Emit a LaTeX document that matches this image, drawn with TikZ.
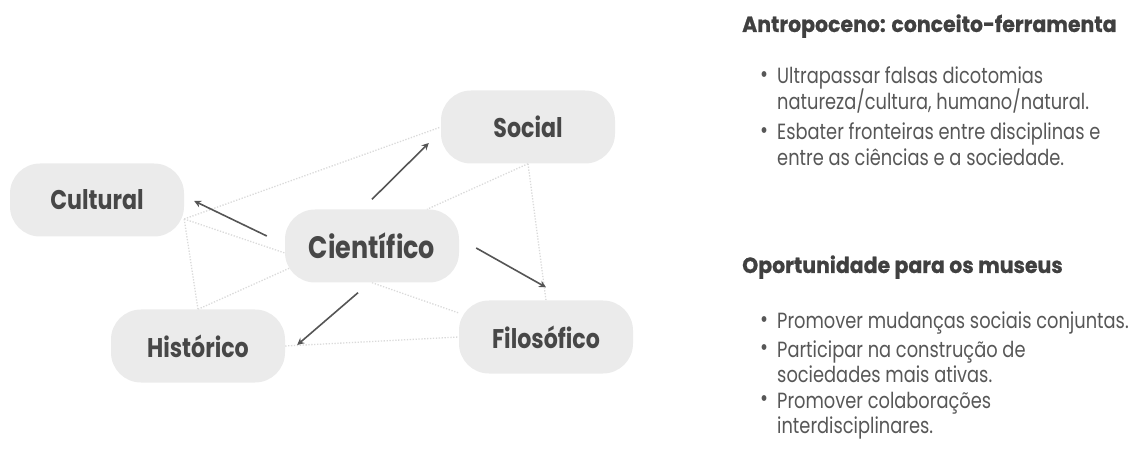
\documentclass[tikz,border=0pt]{standalone}
\usepackage{fontspec}
\setmainfont{Poppins}
\newfontfamily\nodefont[FakeStretch=0.82]{Poppins}
\newfontfamily\bodyfont[FakeStretch=0.81]{Poppins}
\newfontfamily\headfont[FakeStretch=0.93,BoldFeatures={FakeBold=0.6}]{Poppins}
\usetikzlibrary{arrows.meta}
\pgfdeclarelayer{background}
\pgfsetlayers{background,main}
\definecolor{pill}{HTML}{EBEBEB}
\definecolor{pilltext}{HTML}{474747}
\definecolor{arrowc}{HTML}{555555}
\definecolor{dotc}{HTML}{DADADA}
\definecolor{bodyc}{HTML}{575757}
\definecolor{headc}{HTML}{404040}
\tikzset{
  pillbox/.style={rectangle, rounded corners=30pt, fill=pill, minimum width=174pt, minimum height=73pt, inner sep=0pt, text=pilltext, font=\nodefont\bfseries\fontsize{27}{30}\selectfont},
  arr/.style={draw=arrowc, line width=1.6pt, -{Stealth[length=7pt,width=7pt]}},
  dotline/.style={draw=dotc, line width=1.3pt, dash pattern=on 1.3pt off 1.6pt},
  headtxt/.style={anchor=base west, inner sep=0pt, text=headc, font=\headfont\bfseries\fontsize{22}{24}\selectfont},
  bodytxt/.style={anchor=base west, inner sep=0pt, text=bodyc, font=\bodyfont\fontsize{22}{24}\selectfont},
  bullet/.style={anchor=center, inner sep=0pt, text=bodyc, font=\bodyfont\fontsize{24}{24}\selectfont}
}
\begin{document}
\begin{tikzpicture}[x=1pt,y=-1pt]
\useasboundingbox (0,0) rectangle (1136,457);
% pills
\node[pillbox] (cul) at (97,200) {Cultural};
\node[pillbox] (soc) at (528,127) {Social};
\node[pillbox, font=\nodefont\bfseries\fontsize{31}{36}\selectfont] (cie) at (372,246) {Científico};
\node[pillbox] (fil) at (546,337) {Filosófico};
\node[pillbox] (his) at (198,346) {Histórico};
% dotted network
\begin{pgfonlayer}{background}
\coordinate (pc) at ([yshift=-19pt]cul.east);
\draw[dotline] (pc) -- (soc.west);
\draw[dotline] (pc) -- ([yshift=-7pt]cie.west);
\draw[dotline] (pc) -- (his.north);
\draw[dotline] (his.north) -- ([xshift=5pt,yshift=-22pt]cie.west);
\draw[dotline] (his.east) -- (fil.west);
\draw[dotline] (cie.south) -- ([yshift=24pt]fil.west);
\draw[dotline] (soc.south) -- ([xshift=55pt]cie.north);
\draw[dotline] (soc.south) -- (fil.north);
\end{pgfonlayer}
% arrows
\draw[arr] ([xshift=-18pt,yshift=10pt]cie.west) -- ([xshift=10pt,yshift=-1pt]cul.east);
\draw[arr] ([yshift=10pt]cie.north) -- ([xshift=-12pt,yshift=-16pt]soc.west);
\draw[arr] ([xshift=17pt,yshift=-2pt]cie.east) -- ([yshift=13pt]fil.north);
\draw[arr] ([xshift=-14pt,yshift=-10pt]cie.south) -- ([xshift=12pt,yshift=1pt]his.east);
% right text
\node[headtxt] (h1) at (742,32) {Antropoceno: conceito-ferramenta};
\node[bullet] (b11) at (764,77) {•};
\node[bodytxt] (t11) at (777,84) {Ultrapassar falsas dicotomias};
\node[bodytxt] (t12) at (777,110) {natureza/cultura, humano/natural.};
\node[bullet] (b12) at (764,133) {•};
\node[bodytxt] (t13) at (777,140) {Esbater fronteiras entre disciplinas e};
\node[bodytxt] (t14) at (777,166) {entre as ciências e a sociedade.};
\node[headtxt] (h2) at (742,273) {Oportunidade para os museus};
\node[bullet] (b21) at (764,322) {•};
\node[bodytxt] (t21) at (777,329) {Promover mudanças sociais conjuntas.};
\node[bullet] (b22) at (764,350) {•};
\node[bodytxt] (t22) at (777,357) {Participar na construção de};
\node[bodytxt] (t23) at (777,382) {sociedades mais ativas.};
\node[bullet] (b23) at (764,401) {•};
\node[bodytxt] (t24) at (777,408) {Promover colaborações};
\node[bodytxt] (t25) at (777,433) {interdisciplinares.};
\end{tikzpicture}
\end{document}
